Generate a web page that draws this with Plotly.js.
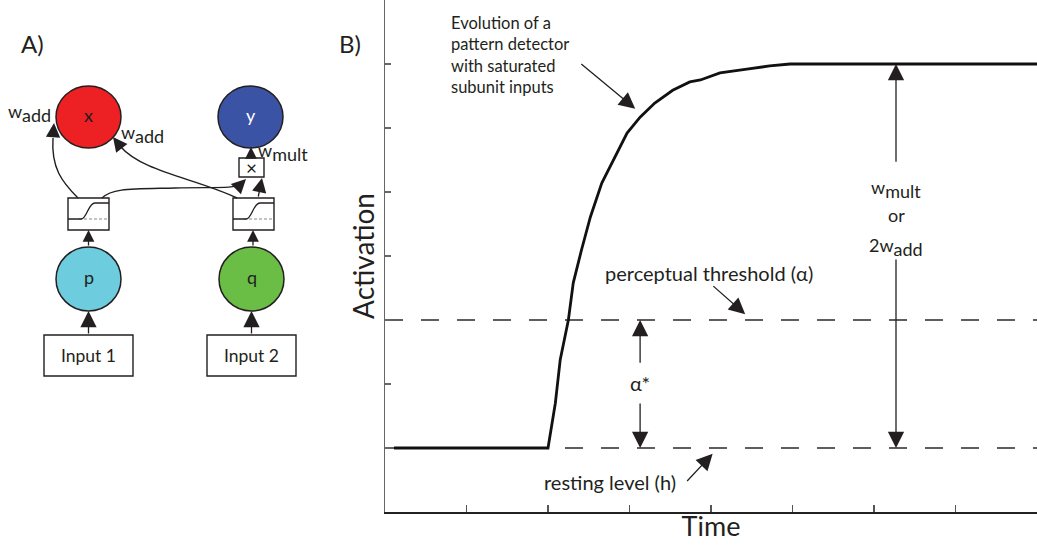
<!DOCTYPE html>
<html>
<head>
<meta charset="utf-8">
<script src="https://cdn.plot.ly/plotly-3.0.1.min.js"></script>
<style>
  html, body { margin: 0; padding: 0; background: #fff; }
  #chart { width: 1037px; height: 548px; }
</style>
</head>
<body>
<div id="chart"></div>
<script>
// ---- Panel B: activation of a pattern detector over time ----
const timeVals = [0.11, 2.0, 2.09, 2.15, 2.25, 2.31, 2.41, 2.52, 2.66, 2.86, 2.97, 3.13, 3.31, 3.53, 3.74, 3.87, 4.11, 4.44, 4.72, 4.97, 5.46, 8.0];
const activationVals = [1.0, 1.0, 1.70, 2.38, 3.0, 3.58, 4.09, 4.61, 5.14, 5.66, 5.92, 6.17, 6.39, 6.59, 6.72, 6.75, 6.86, 6.92, 6.97, 7.0, 7.0, 7.0];
const timeSpan = [0, 8];
const restingLevel = 1;
const perceptualThreshold = 3;
const saturationLevel = 7;
const timeTicks = [1, 2, 3, 4, 5, 6, 7];
const activationTicks = [1, 2, 3, 4, 5, 6, 7];

// ---- Panel A: network labels ----
const nodeLabels = ['x', 'y', 'p', 'q'];
const inputLabels = ['Input 1', 'Input 2'];
const weightNames = ['add', 'mult'];

const FONT = 'Lato, "Open Sans", sans-serif';
const INK = '#231f20';

// weight symbol: w with a full-size lowered index
const weightText = (name, size, prefix) =>
  `${prefix || ''}w<sub><span style="font-size:${size}px">${name}</span></sub>`;

// Diagram geometry (in diagram units, 1 unit = 1 px, y grows downward)
const nodeBoxes = {
  x: [56, 86, 121, 148],
  y: [218, 86, 283, 148],
  p: [56, 247, 121, 311],
  q: [219, 247, 284, 311]
};
const nodeFill = { x: '#ed2024', y: '#3a53a4', p: '#6dcdde', q: '#6abd45' };
const nodeText = { x: INK, y: '#ffffff', p: INK, q: INK };
const inputBoxes = [[44, 335, 133, 376], [207, 335, 296, 376]];
const sigBoxes = [[68, 198, 109, 230], [233, 198, 274, 230]];
const multBox = [239, 158, 264, 177];

const shapes = [];
const annotations = [];

function rect(b, xr, yr) {
  return { type: 'rect', xref: xr, yref: yr, x0: b[0], y0: b[1], x1: b[2], y1: b[3],
    line: { color: INK, width: 1.4 }, fillcolor: '#ffffff', layer: 'above' };
}

// nodes
nodeLabels.forEach(n => {
  const b = nodeBoxes[n];
  shapes.push({ type: 'circle', xref: 'x2', yref: 'y2', x0: b[0], y0: b[1], x1: b[2], y1: b[3],
    fillcolor: nodeFill[n], line: { color: INK, width: 1.5 } });
  annotations.push({ xref: 'x2', yref: 'y2', x: (b[0] + b[2]) / 2, y: (b[1] + b[3]) / 2 - 2,
    text: n, showarrow: false, font: { family: FONT, size: 18, color: nodeText[n] } });
});

// input boxes
inputLabels.forEach((lab, i) => {
  const b = inputBoxes[i];
  shapes.push(rect(b, 'x2', 'y2'));
  annotations.push({ xref: 'x2', yref: 'y2', x: (b[0] + b[2]) / 2, y: (b[1] + b[3]) / 2,
    text: lab, showarrow: false, font: { family: FONT, size: 17.5, color: INK } });
});

// sigmoid boxes with transfer curve
sigBoxes.forEach(b => {
  shapes.push(rect(b, 'x2', 'y2'));
  const x0 = b[0], lo = 219, hi = 203;
  shapes.push({ type: 'path', xref: 'x2', yref: 'y2', layer: 'above',
    path: `M${x0 + 11},${lo} L${b[2]},${lo}`, line: { color: '#8a8a8a', width: 1, dash: '3px,2px' } });
  shapes.push({ type: 'path', xref: 'x2', yref: 'y2', layer: 'above',
    path: `M${x0},${lo} L${x0 + 13},${lo} C${x0 + 19},${lo} ${x0 + 20},${hi} ${x0 + 27},${hi} L${b[2]},${hi}`,
    line: { color: INK, width: 1.3 } });
});

// multiplication box
shapes.push(rect(multBox, 'x2', 'y2'));
annotations.push({ xref: 'x2', yref: 'y2', x: (multBox[0] + multBox[2]) / 2, y: (multBox[1] + multBox[3]) / 2,
  text: '×', showarrow: false, font: { family: FONT, size: 19, color: INK } });

// curved connections
const curves = [
  'M78,198 C62,182 51,168 53,138',
  'M237,198 C195,178 142,172 120,146',
  'M102,198 C112,188 130,189 175,188 C215,187 234,189 241,184'
];
curves.forEach(p => shapes.push({ type: 'path', xref: 'x2', yref: 'y2', path: p,
  line: { color: INK, width: 1.4 } }));

// arrowheads in the diagram: [tailX, tailY, headX, headY, size]
const diagArrows = [
  [88.5, 335, 88.5, 311, 2.5],
  [251.5, 335, 251.5, 311, 2.5],
  [88.5, 247, 88.5, 230, 1.8],
  [253, 247, 253, 230, 1.8],
  [251, 158, 251, 147, 1.8],
  [258, 198, 262, 178, 2.2],
  [53, 138, 54, 123, 2.2],
  [120, 146, 113, 137, 2.2],
  [241, 184, 246, 179, 2.2]
];
diagArrows.forEach(a => annotations.push({ xref: 'x2', yref: 'y2', axref: 'x2', ayref: 'y2',
  ax: a[0], ay: a[1], x: a[2], y: a[3], text: '', showarrow: true,
  arrowhead: 2, arrowsize: a[4], arrowwidth: 1.3, arrowcolor: INK, standoff: 0 }));

// weight labels
[[29, 113, 0], [142, 134, 0], [283, 152, 1]].forEach(w => annotations.push({
  xref: 'x2', yref: 'y2', x: w[0], y: w[1], text: weightText(weightNames[w[2]], 18), showarrow: false,
  font: { family: FONT, size: 18, color: INK } }));

// panel letters
annotations.push({ xref: 'paper', yref: 'paper', x: 32 / 1037, y: 1 - 27 / 548, xanchor: 'center', text: 'A)',
  showarrow: false, font: { family: FONT, size: 24, color: INK } });
annotations.push({ xref: 'paper', yref: 'paper', x: 350 / 1037, y: 1 - 27 / 548, xanchor: 'center', text: 'B)',
  showarrow: false, font: { family: FONT, size: 24, color: INK } });

// ---- Panel B annotations ----
const bArrow = (tx, ty, hx, hy, size) => ({ xref: 'x', yref: 'y', axref: 'x', ayref: 'y',
  ax: tx, ay: ty, x: hx, y: hy, text: '', showarrow: true, arrowhead: 2, arrowsize: size || 2.5,
  arrowwidth: 1.3, arrowcolor: INK, standoff: 0 });
const bText = (x, y, text, size, extra) => Object.assign({ xref: 'x', yref: 'y', x: x, y: y, text: text,
  showarrow: false, font: { family: FONT, size: size, color: INK } }, extra || {});

annotations.push(bText(0.785, 7.14, 'Evolution of a<br>pattern detector<br>with saturated<br>subunit inputs', 16.5,
  { xanchor: 'left', align: 'left' }));
annotations.push(bArrow(2.39, 7.02, 3.07, 6.30));
annotations.push(bText(3.97, 3.73, 'perceptual threshold (α)', 20));
annotations.push(bArrow(4.01, 3.55, 4.42, 3.09));
annotations.push(bText(2.755, 0.47, 'resting level (h)', 20));
annotations.push(bArrow(3.69, 0.46, 4.02, 0.91));
annotations.push(bText(3.13, 2.02, 'α*', 20));
annotations.push(bArrow(3.13, 2.31, 3.13, perceptualThreshold));
annotations.push(bArrow(3.13, 1.72, 3.13, restingLevel));
annotations.push(bText(6.27, 5.04, weightText('mult', 18), 18));
annotations.push(bText(6.27, 4.64, 'or', 18));
annotations.push(bText(6.27, 4.14, weightText('add', 18, '2'), 18));
annotations.push(bArrow(6.27, 5.45, 6.27, saturationLevel));
annotations.push(bArrow(6.27, 3.97, 6.27, restingLevel));

const traces = [
  { x: timeSpan, y: [perceptualThreshold, perceptualThreshold], mode: 'lines', xaxis: 'x', yaxis: 'y',
    line: { color: '#2a2a2a', width: 1.4, dash: '18px,18px' }, hoverinfo: 'skip' },
  { x: timeSpan, y: [restingLevel, restingLevel], mode: 'lines', xaxis: 'x', yaxis: 'y',
    line: { color: '#2a2a2a', width: 1.4, dash: '18px,18px' }, hoverinfo: 'skip' },
  { x: timeVals, y: activationVals, mode: 'lines', xaxis: 'x', yaxis: 'y',
    line: { color: '#111111', width: 2.8 }, name: 'Activation' }
];

const layout = {
  width: 1037, height: 548,
  margin: { l: 0, r: 0, t: 0, b: 0, pad: 0 },
  paper_bgcolor: '#ffffff', plot_bgcolor: 'rgba(0,0,0,0)',
  showlegend: false,
  font: { family: FONT, color: INK },
  xaxis: {
    domain: [385 / 1037, 1], range: timeSpan, showgrid: false, zeroline: false,
    showline: true, linecolor: '#222222', linewidth: 1.5,
    ticks: 'inside', ticklen: 7, tickwidth: 1.2, tickcolor: '#555555',
    tickvals: timeTicks, showticklabels: false, fixedrange: true,
    title: { text: 'Time', font: { family: FONT, size: 27, color: INK }, standoff: 4 }
  },
  yaxis: {
    domain: [36 / 548, 1], range: [0, 8], showgrid: false, zeroline: false,
    showline: true, linecolor: '#666666', linewidth: 1.5,
    ticks: 'inside', ticklen: 6, tickwidth: 1.2, tickcolor: '#666666',
    tickvals: activationTicks, showticklabels: false, fixedrange: true,
    title: { text: 'Activation', font: { family: FONT, size: 28, color: INK }, standoff: 0 }
  },
  xaxis2: { domain: [0, 330 / 1037], range: [0, 330], visible: false, fixedrange: true },
  yaxis2: { domain: [0, 1], range: [548, 0], visible: false, fixedrange: true, anchor: 'x2' },
  shapes: shapes,
  annotations: annotations
};

Plotly.newPlot('chart', traces, layout, { displayModeBar: false, staticPlot: true });
</script>
</body>
</html>
